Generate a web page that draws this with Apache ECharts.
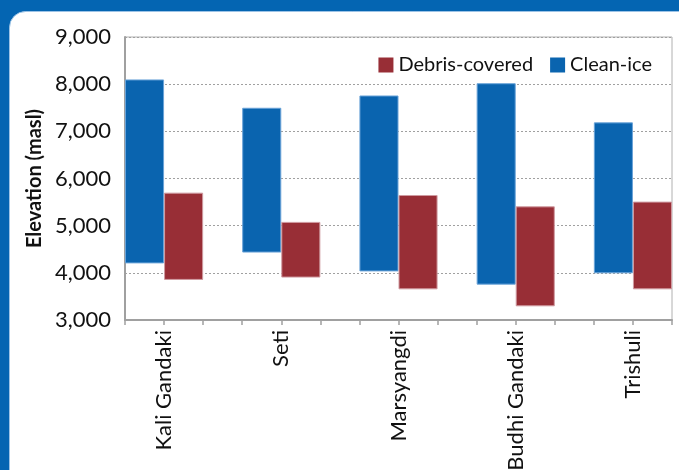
<!DOCTYPE html>
<html>
<head>
<meta charset="utf-8">
<script src="https://cdn.jsdelivr.net/npm/echarts@6/dist/echarts.min.js"></script>
<style>
  html, body { margin: 0; padding: 0; }
  #chart { width: 679px; height: 470px; }
</style>
</head>
<body>
<div id="chart"></div>
<script>
// Glacier elevation ranges by river basin (metres above sea level)
const rivers = ['Kali Gandaki', 'Seti', 'Marsyangdi', 'Budhi Gandaki', 'Trishuli'];
const cleanLow   = [4200, 4430, 4030, 3750, 3990];
const cleanHigh  = [8100, 7500, 7760, 8020, 7190];
const debrisLow  = [3850, 3900, 3650, 3290, 3650];
const debrisHigh = [5700, 5080, 5650, 5410, 5510];
const yTicks = [3000, 4000, 5000, 6000, 7000, 8000, 9000];

const FONT = 'Lato';
const BLUE = '#0A64AF';
const RED = '#982E36';

// Each basin takes three slots: clean-ice, debris-covered, spacer (no spacer after the last one)
const slots = [];
const base = [];
const cleanRange = [];
const debrisRange = [];
rivers.forEach((r, i) => {
  slots.push(r + ' clean');
  base.push(cleanLow[i]);
  cleanRange.push(cleanHigh[i] - cleanLow[i]);
  debrisRange.push('-');

  slots.push(r + ' debris');
  base.push(debrisLow[i]);
  cleanRange.push('-');
  debrisRange.push(debrisHigh[i] - debrisLow[i]);

  if (i < rivers.length - 1) {
    slots.push(r + ' gap');
    base.push('-');
    cleanRange.push('-');
    debrisRange.push('-');
  }
});

// Label axis: points on slot boundaries, basin name on the boundary between its two bars
const boundaryLabels = [];
for (let k = 0; k <= slots.length; k++) boundaryLabels.push('');
rivers.forEach((r, i) => { boundaryLabels[i * 3 + 1] = r; });

const chart = echarts.init(document.getElementById('chart'));
chart.setOption({
  animation: false,
  backgroundColor: '#0465B2',
  graphic: [{
    type: 'rect',
    silent: true,
    z: -10,
    shape: { x: 9.5, y: 11.5, width: 720, height: 500, r: [16, 0, 0, 0] },
    style: { fill: '#ffffff', stroke: '#9cc3e6', lineWidth: 1 }
  }],
  grid: {
    left: 125, right: 7, top: 37, bottom: 150,
    outerBoundsMode: 'none',
    containLabel: false,
    show: true, borderColor: '#b0b0b0', borderWidth: 1, backgroundColor: 'transparent'
  },
  legend: {
    data: ['Debris-covered', 'Clean-ice'],
    right: 22,
    top: 50,
    icon: 'rect',
    itemWidth: 15,
    itemHeight: 15,
    itemGap: 17,
    itemStyle: { borderWidth: 0 },
    textStyle: { fontFamily: FONT, fontSize: 20, color: '#111' }
  },
  xAxis: [{
    type: 'category',
    data: slots,
    boundaryGap: true,
    axisLine: { lineStyle: { color: '#a0a0a0', width: 2 } },
    axisTick: { show: true, interval: 0, length: 5, lineStyle: { color: '#a0a0a0', width: 1.5 } },
    axisLabel: { show: false },
    splitLine: { show: false }
  }, {
    type: 'category',
    data: boundaryLabels,
    boundaryGap: false,
    position: 'bottom',
    axisLine: { show: false },
    axisTick: { show: false },
    splitLine: { show: false },
    axisLabel: { interval: 0, rotate: 90, margin: 10, fontFamily: FONT, fontSize: 22, color: '#111' }
  }],
  yAxis: {
    type: 'value',
    min: yTicks[0],
    max: yTicks[yTicks.length - 1],
    interval: 1000,
    name: 'Elevation (masl)',
    nameLocation: 'middle',
    nameGap: 80,
    nameTextStyle: { fontFamily: FONT, fontSize: 20, fontWeight: 'bold', color: '#111' },
    axisLine: { show: true, lineStyle: { color: '#a0a0a0', width: 2 } },
    axisTick: { show: false },
    axisLabel: {
      margin: 14,
      fontFamily: FONT,
      fontSize: 22,
      color: '#111',
      formatter: v => v.toLocaleString('en-US')
    },
    splitLine: { show: true, lineStyle: { color: '#a0a0a0', type: [2, 2], width: 1 } }
  },
  series: [{
    name: 'base',
    type: 'bar',
    stack: 'elev',
    barCategoryGap: 0,
    data: base,
    itemStyle: { color: 'rgba(0,0,0,0)' },
    emphasis: { disabled: true },
    silent: true
  }, {
    name: 'Clean-ice',
    type: 'bar',
    stack: 'elev',
    barCategoryGap: 0,
    data: cleanRange,
    itemStyle: { color: BLUE, borderColor: '#6aa3d8', borderWidth: 1 }
  }, {
    name: 'Debris-covered',
    type: 'bar',
    stack: 'elev',
    barCategoryGap: 0,
    data: debrisRange,
    itemStyle: { color: RED, borderColor: '#cf9aa0', borderWidth: 1 }
  }]
});
</script>
</body>
</html>
